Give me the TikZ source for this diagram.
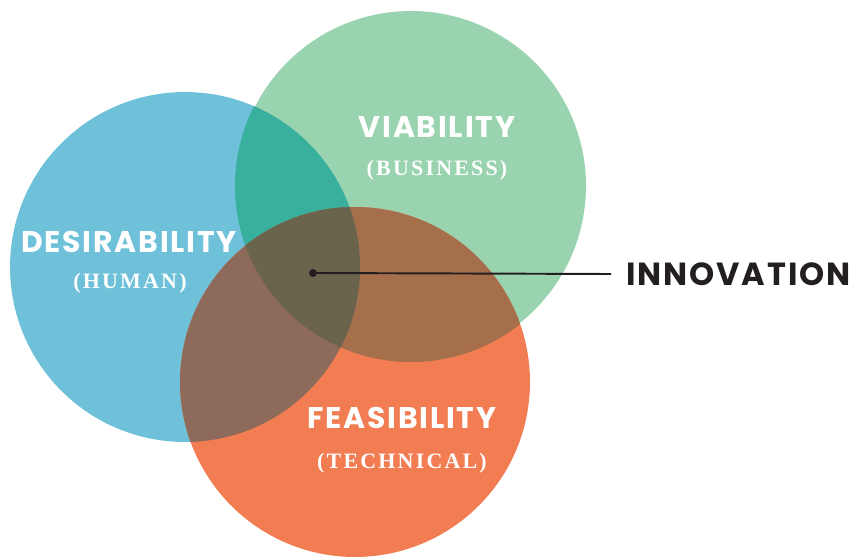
\documentclass[tikz,border=0pt]{standalone}
\usepackage{fontspec}
\newfontfamily\headfont[LetterSpace=6]{Poppins}
\newfontfamily\subfont[LetterSpace=10]{Liberation Serif}
\definecolor{human}{HTML}{6EC1D9}
\definecolor{business}{HTML}{9AD3B0}
\definecolor{technical}{HTML}{F27D52}
\definecolor{humbus}{HTML}{38B09D}
\definecolor{bustech}{HTML}{A56F4B}
\definecolor{humtech}{HTML}{8D6A59}
\definecolor{allthree}{HTML}{6B644D}
\definecolor{ink}{HTML}{231F20}

\begin{document}
\begin{tikzpicture}[x=0.02cm,y=-0.02cm,
    bubble/.style={circle,inner sep=0pt,outer sep=0pt,minimum size=7cm},
    title/.style={text=white,font=\headfont\bfseries\fontsize{17}{17}\selectfont},
    subtitle/.style={text=white,font=\subfont\bfseries\fontsize{12.5}{12.5}\selectfont}]

    \useasboundingbox (0,0) rectangle (851,557);

    % the three circles
    \node [bubble,fill=human] (human) at (185,267) {};
    \node [bubble,fill=business] (business) at (411,186) {};
    \node [bubble,fill=technical] (technical) at (355,382) {};

    % overlaps
    \begin{scope}
      \clip (human.center) circle (175);
      \fill [humbus] (business.center) circle (176);
    \end{scope}
    \begin{scope}
      \clip (business.center) circle (176);
      \fill [bustech] (technical.center) circle (175);
    \end{scope}
    \begin{scope}
      \clip (human.center) circle (175);
      \fill [humtech] (technical.center) circle (175);
    \end{scope}
    \begin{scope}
      \clip (human.center) circle (175);
      \clip (business.center) circle (176);
      \fill [allthree] (technical.center) circle (175);
    \end{scope}

    % labels
    \node [title] (desire) at (129,242) {DESIRABILITY};
    \node [subtitle] (desiresub) at (130,283) {(HUMAN)};
    \node [title] (viable) at (437,127) {VIABILITY};
    \node [subtitle] (viablesub) at (437,170) {(BUSINESS)};
    \node [title] (feasible) at (402,418) {FEASIBILITY};
    \node [subtitle] (feasiblesub) at (402,463) {(TECHNICAL)};

    \node [circle,fill=ink,inner sep=0pt,minimum size=4.5pt] (core) at (313,273) {};
    \node [anchor=west,inner xsep=0.3cm,inner ysep=0pt,text=ink,
      font=\headfont\bfseries\fontsize{18.2}{18.2}\selectfont] (innov) at (611,274) {INNOVATION};
    \draw [ink,line width=1.1pt] (core.center) -- (innov.west);

\end{tikzpicture}
\end{document}
